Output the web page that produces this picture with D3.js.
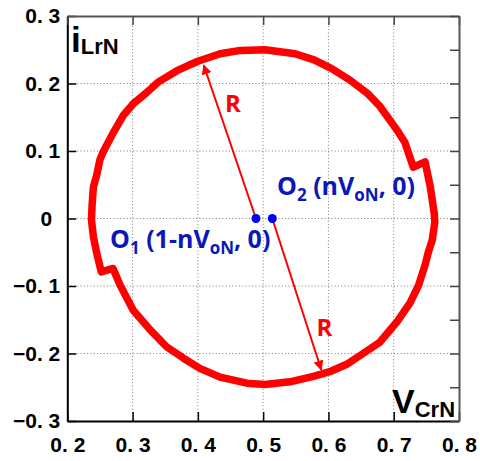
<!DOCTYPE html>
<html>
<head>
<meta charset="utf-8">
<script src="https://cdn.jsdelivr.net/npm/d3@7"></script>
<style>
	body { margin: 0; background: #fff; }
	svg { display: block; }
</style>
</head>
<body>
<svg id="chart" width="480" height="461"></svg>
<script>
// trajectory (V_CrN, i_LrN)
const curveX = [0.252, 0.245, 0.240, 0.237, 0.238, 0.240, 0.245, 0.250, 0.255, 0.271, 0.286, 0.301, 0.322, 0.339,
	0.368, 0.400, 0.434, 0.465, 0.503, 0.549, 0.578, 0.605, 0.633, 0.659, 0.679, 0.705, 0.717, 0.730,
	0.748, 0.756, 0.762, 0.763, 0.759, 0.753, 0.748, 0.738, 0.725, 0.705, 0.679, 0.653, 0.628, 0.602,
	0.577, 0.541, 0.503, 0.475, 0.434, 0.403, 0.378, 0.352, 0.327, 0.301, 0.281, 0.270];
const curveY = [-0.079, -0.051, -0.027, -0.002, 0.020, 0.047, 0.064, 0.087, 0.099, 0.128, 0.153, 0.170, 0.187, 0.202,
	0.219, 0.233, 0.244, 0.249, 0.250, 0.244, 0.235, 0.222, 0.205, 0.186, 0.166, 0.131, 0.113, 0.076,
	0.084, 0.047, 0.008, -0.005, -0.032, -0.050, -0.069, -0.099, -0.125, -0.153, -0.183, -0.200, -0.216, -0.227,
	-0.234, -0.242, -0.246, -0.244, -0.235, -0.222, -0.207, -0.190, -0.165, -0.136, -0.099, -0.074];

const centerX = [0.489, 0.514];
const centerY = [0, 0];
const radiusTipX = [0.409, 0.589];
const radiusTipY = [0.227, -0.224];

const xTicks = [0.2, 0.3, 0.4, 0.5, 0.6, 0.7, 0.8];
const yTicks = [-0.3, -0.2, -0.1, 0, 0.1, 0.2, 0.3];
const yMinorTicks = [-0.3, -0.25, -0.2, -0.15, -0.1, -0.05, 0, 0.05, 0.1, 0.15, 0.2, 0.25, 0.3];

function tickLabel(d){
	if (d === 0) return "0";
	return d3.format(".1f")(d).replace(".", ". ");
}

function drawChart(holder){
	let svg = d3.select(holder);
	let x = d3.scaleLinear().domain([0.2, 0.8]).range([67.3, 459]);
	let y = d3.scaleLinear().domain([-0.3, 0.3]).range([421, 16]);

	svg.append("defs").append("marker")
		.attr("id", "arrowHead")
		.attr("viewBox", "0 0 10 10")
		.attr("refX", 9).attr("refY", 5)
		.attr("markerWidth", 5).attr("markerHeight", 5)
		.attr("orient", "auto")
		.append("path")
			.attr("d", "M0,0 L10,5 L0,10 z")
			.attr("fill", "#f00");

	// dotted grid
	let grid = svg.append("g").attr("class", "grid")
		.attr("stroke", "#7a7a7a")
		.attr("stroke-width", 1)
		.attr("stroke-dasharray", "1,2.3");
	grid.selectAll(".vgrid")
		.data(xTicks.slice(1, -1))
		.enter().append("line")
			.attr("x1", d => x(d)).attr("x2", d => x(d))
			.attr("y1", y(0.3)).attr("y2", y(-0.3));
	grid.selectAll(".hgrid")
		.data(yTicks.slice(1, -1))
		.enter().append("line")
			.attr("y1", d => y(d)).attr("y2", d => y(d))
			.attr("x1", x(0.2)).attr("x2", x(0.8));

	// trajectory
	let points = curveX.map((e, i) => [e, curveY[i]]);
	let line = d3.line().x(d => x(d[0])).y(d => y(d[1])).curve(d3.curveLinearClosed);
	svg.append("path")
		.datum(points)
		.attr("d", line)
		.attr("fill", "none")
		.attr("stroke", "#ff0000")
		.attr("stroke-width", 7.5)
		.attr("stroke-linejoin", "round");

	// axes
	let bottom = svg.append("g").attr("transform", `translate(0,${y(-0.3)})`)
		.call(d3.axisBottom(x).tickValues(xTicks).tickSize(-9).tickSizeOuter(0).tickPadding(16).tickFormat(tickLabel));
	let left = svg.append("g").attr("transform", `translate(${x(0.2)},0)`)
		.call(d3.axisLeft(y).tickValues(yTicks).tickSize(-9).tickSizeOuter(0).tickPadding(7).tickFormat(tickLabel));
	left.selectAll(".tick text").filter(d => d === 0).attr("x", -15);
	let top = svg.append("g").attr("transform", `translate(0,${y(0.3)})`)
		.call(d3.axisTop(x).tickValues(xTicks).tickSize(-9).tickSizeOuter(0).tickFormat(""));
	let right = svg.append("g").attr("transform", `translate(${x(0.8)},0)`)
		.call(d3.axisRight(y).tickValues(yMinorTicks).tickSize(-9).tickSizeOuter(0).tickFormat(""));
	[bottom, left].forEach(g => {
		g.selectAll(".tick text")
			.style("font-family", "'Liberation Sans', Arial, sans-serif")
			.style("font-size", "21px")
			.style("font-weight", "bold")
			.attr("fill", "#000");
		g.select(".domain").attr("stroke", "#000").attr("stroke-width", 2);
		g.selectAll(".tick line").attr("stroke", "#000").attr("stroke-width", 1.5);
	});
	[top, right].forEach(g => {
		g.select(".domain").attr("stroke", "#555").attr("stroke-width", 2);
		g.selectAll(".tick line").attr("stroke", "#444").attr("stroke-width", 1.5);
	});

	// radius arrows
	svg.selectAll(".radius")
		.data(centerX)
		.enter().append("line")
			.attr("class", "radius")
			.attr("x1", (d, i) => x(d)).attr("y1", (d, i) => y(centerY[i]))
			.attr("x2", (d, i) => x(radiusTipX[i])).attr("y2", (d, i) => y(radiusTipY[i]))
			.attr("stroke", "#f00")
			.attr("stroke-width", 2)
			.attr("marker-end", "url(#arrowHead)");

	svg.selectAll(".rLabel")
		.data([[225, 111.5], [316.5, 336]])
		.enter().append("text")
			.attr("class", "rLabel")
			.attr("x", d => d[0]).attr("y", d => d[1])
			.attr("font-family", "'Open Sans', sans-serif")
			.attr("font-weight", "bold")
			.attr("font-size", 24)
			.attr("fill", "#f00")
			.text("R");

	// centres
	svg.selectAll(".centre")
		.data(centerX)
		.enter().append("circle")
			.attr("class", "centre")
			.attr("cx", d => x(d)).attr("cy", (d, i) => y(centerY[i]))
			.attr("r", 4.5)
			.attr("fill", "#0000ff");

	function centreLabel(px, py, parts){
		let t = svg.append("text")
			.attr("x", px).attr("y", py)
			.attr("font-family", "'Open Sans', sans-serif")
			.attr("font-weight", "bold")
			.attr("font-size", 25)
			.attr("fill", "#0a18b8");
		parts.forEach(p => {
			t.append("tspan")
				.attr("font-size", p.sub ? 17 : 25)
				.attr("dy", p.dy)
				.text(p.t);
		});
	}
	centreLabel(110, 247.5, [
		{t: "O", dy: 0}, {t: "1", sub: true, dy: 6}, {t: " (1-nV", dy: -6},
		{t: "oN", sub: true, dy: 6}, {t: ", 0)", dy: -6}
	]);
	centreLabel(277, 195, [
		{t: "O", dy: 0}, {t: "2", sub: true, dy: 6}, {t: " (nV", dy: -6},
		{t: "oN", sub: true, dy: 6}, {t: ", 0)", dy: -6}
	]);

	// axis names
	let yName = svg.append("text")
		.attr("x", 71).attr("y", 52)
		.attr("font-family", "'Liberation Sans', Arial, sans-serif")
		.attr("font-weight", "bold")
		.attr("fill", "#000");
	yName.append("tspan").attr("font-size", 35).text("i");
	yName.append("tspan").attr("font-size", 22).attr("dy", 1.5).text("LrN");

	let xName = svg.append("text")
		.attr("x", 392).attr("y", 412.5)
		.attr("font-family", "'Liberation Sans', Arial, sans-serif")
		.attr("font-weight", "bold")
		.attr("fill", "#000");
	xName.append("tspan").attr("font-size", 34).text("V");
	xName.append("tspan").attr("font-size", 22).attr("dy", 4.5).text("CrN");
}

drawChart("#chart");
</script>
</body>
</html>
